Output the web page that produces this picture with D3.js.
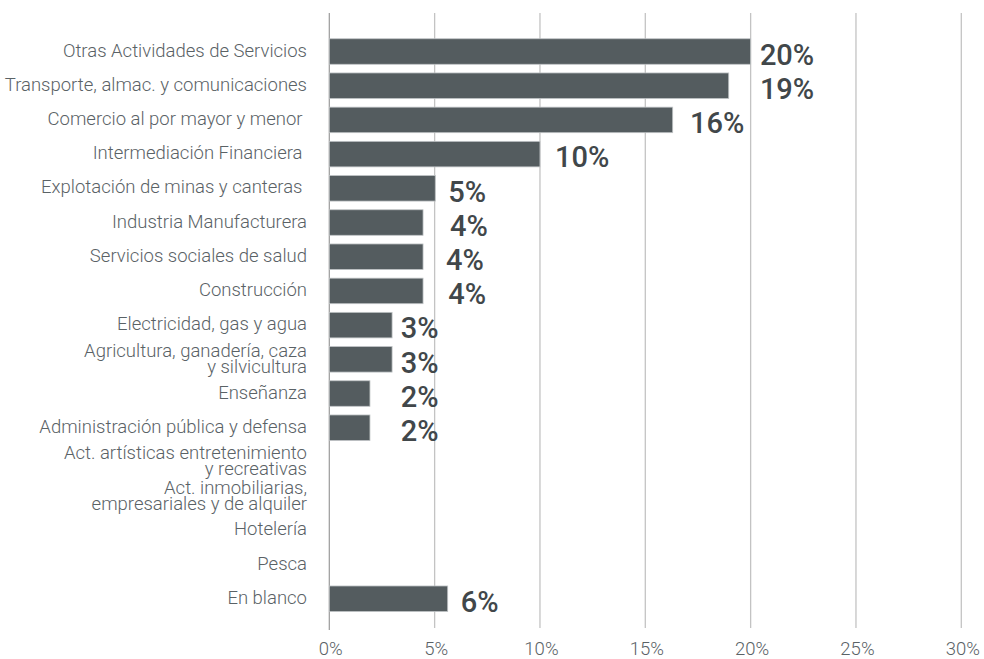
<!DOCTYPE html>
<html>
<head>
<meta charset="utf-8">
<script src="https://cdn.jsdelivr.net/npm/d3@7"></script>
<style>
  html, body { margin: 0; padding: 0; background: #fff; }
  svg text { white-space: pre; }
</style>
</head>
<body>
<svg id="chart" width="984" height="659"></svg>
<script>
// ---- data ----
const categories = [
  "Otras Actividades de Servicios",
  "Transporte, almac. y comunicaciones",
  "Comercio al por mayor y menor ",
  "Intermediación Financiera ",
  "Explotación de minas y canteras ",
  "Industria Manufacturera",
  "Servicios sociales de salud",
  "Construcción",
  "Electricidad, gas y agua",
  "Agricultura, ganadería, caza\ny silvicultura",
  "Enseñanza",
  "Administración pública y defensa",
  "Act. artísticas entretenimiento\ny recreativas",
  "Act. inmobiliarias,\nempresariales y de alquiler",
  "Hotelería",
  "Pesca",
  "En blanco"
];
const values = [20.0, 18.96, 16.3, 10.0, 5.03, 4.45, 4.45, 4.45, 2.98, 2.98, 1.93, 1.93, null, null, null, null, 5.62];
const valueLabels = ["20%", "19%", "16%", "10%", "5%", "4%", "4%", "4%", "3%", "3%", "2%", "2%", "", "", "", "", "6%"];
// value (in %) at which each data label starts, as placed in the reference
const labelAt = [20.44, 20.44, 17.12, 10.71, 5.65, 5.73, 5.54, 5.65, 3.39, 3.39, 3.39, 3.39, null, null, null, null, 6.24];
const tickValues = [0, 5, 10, 15, 20, 25, 30];
const tickLabels = ["0%", "5%", "10%", "15%", "20%", "25%", "30%"];

// ---- layout ----
const svg = d3.select("#chart");
const x = d3.scaleLinear().domain([0, 30]).range([329.3, 961.3]);
const y = d3.scaleBand().domain(categories).range([21.65, 628.6]).paddingInner(0.254).paddingOuter(0.5);
const gridTop = 13, gridBottom = 628;

const labelFont = "Roboto, 'Open Sans', sans-serif";
const textColor = "#5a6266";

// gridlines
svg.append("g").selectAll("line")
  .data(tickValues.filter(d => d !== 0))
  .join("line")
  .attr("x1", d => x(d)).attr("x2", d => x(d))
  .attr("y1", gridTop).attr("y2", gridBottom)
  .attr("stroke", "#c3c3c3").attr("stroke-width", 1.3);

// zero axis line
svg.append("line")
  .attr("x1", x(0)).attr("x2", x(0))
  .attr("y1", gridTop).attr("y2", gridBottom + 2)
  .attr("stroke", "#9a9a9a").attr("stroke-width", 1.2);

// x tick labels
svg.append("g").selectAll("text")
  .data(tickValues)
  .join("text")
  .attr("x", d => x(d) + 1.5)
  .attr("y", 654.5)
  .attr("text-anchor", "middle")
  .attr("font-family", labelFont)
  .attr("font-weight", 300)
  .attr("font-size", 18.5)
  .attr("fill", textColor)
  .text((d, i) => tickLabels[i]);

const rows = categories.map((c, i) => ({ c, v: values[i], lab: valueLabels[i], at: labelAt[i] }));

// bars
svg.append("g").selectAll("rect")
  .data(rows.filter(d => d.v != null))
  .join("rect")
  .attr("x", x(0))
  .attr("y", d => y(d.c))
  .attr("width", d => x(d.v) - x(0))
  .attr("height", y.bandwidth())
  .attr("fill", "#545c5f")
  .attr("stroke", "#bfc3c5")
  .attr("stroke-width", 0.8);

// category labels
const catG = svg.append("g");
rows.forEach(d => {
  const lines = d.c.split("\n");
  const cy = y(d.c) + y.bandwidth() / 2;
  const t = catG.append("text")
    .attr("text-anchor", "end")
    .attr("font-family", labelFont)
    .attr("font-weight", 300)
    .attr("font-size", 18.5)
    .attr("fill", textColor);
  if (lines.length === 1) {
    t.append("tspan").attr("x", 307).attr("y", cy + 5).text(lines[0]);
  } else {
    lines.forEach((ln, k) => {
      t.append("tspan").attr("x", 307).attr("y", cy - 2.5 + k * 16).text(ln);
    });
  }
});

// value labels
svg.append("g").selectAll("text")
  .data(rows.filter(d => d.v != null))
  .join("text")
  .attr("x", d => x(d.at))
  .attr("y", d => y(d.c) + y.bandwidth() + 0.5)
  .attr("font-family", labelFont)
  .attr("font-weight", 500)
  .attr("font-size", 29)
  .attr("fill", "#41474a")
  .text(d => d.lab);
</script>
</body>
</html>
